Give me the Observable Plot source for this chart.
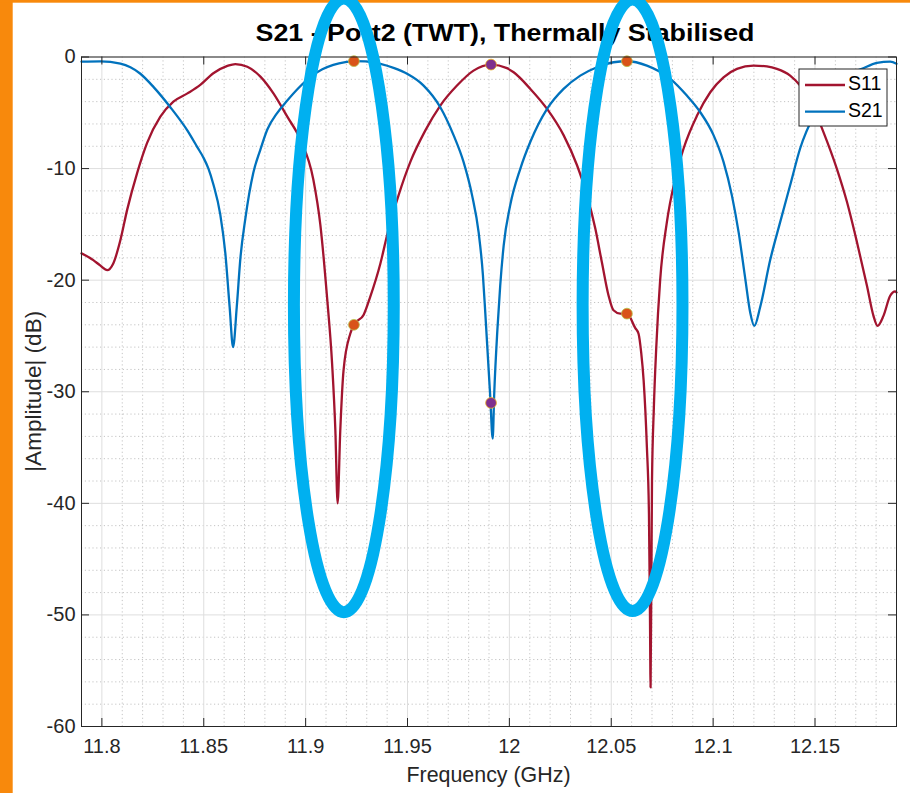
<!DOCTYPE html>
<html>
<head>
<meta charset="utf-8">
<script src="https://cdn.jsdelivr.net/npm/d3@7"></script>
<script src="https://cdn.jsdelivr.net/npm/@observablehq/plot@0.6"></script>
<style>
  html, body { margin: 0; padding: 0; background: #fff; }
  #chart { width: 910px; height: 793px; overflow: hidden; }
</style>
</head>
<body>
<div id="chart"></div>
<script>
// ---------------- data ----------------
const titleText = "S21 - Port2 (TWT), Thermally Stabilised";
const xLabel = "Frequency (GHz)";
const yLabel = "|Amplitude| (dB)";
const seriesNames = ["S11", "S21"];

const s21Freq = [11.7900, 11.7993, 11.8091, 11.8140, 11.8189, 11.8254, 11.8336, 11.8420, 11.8469, 11.8498,
  11.8523, 11.8547, 11.8581, 11.8606, 11.8627, 11.8644, 11.8662, 11.8680, 11.8704, 11.8743,
  11.8778, 11.8812, 11.8861, 11.8910, 11.8964, 11.9023, 11.9082, 11.9136, 11.9195, 11.9237,
  11.9293, 11.9367, 11.9435, 11.9498, 11.9579, 11.9661, 11.9726, 11.9775, 11.9817, 11.9849,
  11.9870, 11.9882, 11.9906, 11.9918, 11.9926, 11.9941, 11.9955, 11.9972, 12.0004, 12.0054,
  12.0103, 12.0185, 12.0266, 12.0348, 12.0430, 12.0511, 12.0577, 12.0675, 12.0790, 12.0871,
  12.0937, 12.1002, 12.1051, 12.1092, 12.1125, 12.1158, 12.1182, 12.1202, 12.1231, 12.1280,
  12.1329, 12.1378, 12.1427, 12.1501, 12.1575, 12.1648, 12.1730, 12.1804, 12.1869, 12.1900];
const s21Db = [-0.42, -0.40, -0.60, -0.92, -1.50, -2.70, -4.50, -6.60, -8.10, -9.00,
  -10.00, -11.40, -14.10, -17.60, -22.40, -26.00, -22.40, -18.00, -14.50, -10.40,
  -8.30, -6.50, -5.00, -3.90, -2.80, -1.80, -1.10, -0.70, -0.45, -0.37,
  -0.40, -0.62, -1.00, -1.50, -2.56, -4.50, -7.00, -9.40, -12.40, -15.70,
  -19.50, -23.00, -30.40, -34.20, -30.00, -24.50, -20.50, -16.90, -13.30, -10.00,
  -7.60, -4.65, -2.86, -1.67, -0.92, -0.47, -0.38, -0.77, -1.96, -3.46,
  -4.95, -7.00, -9.40, -12.40, -15.70, -19.90, -22.90, -24.10, -22.40, -18.20,
  -14.80, -11.50, -8.20, -5.00, -2.90, -1.70, -1.07, -0.53, -0.41, -0.60];

const s11Freq = [11.7900, 11.7958, 11.7993, 11.8026, 11.8056, 11.8091, 11.8124, 11.8173, 11.8222, 11.8287,
  11.8351, 11.8420, 11.8483, 11.8547, 11.8616, 11.8655, 11.8714, 11.8778, 11.8842, 11.8910,
  11.8974, 11.9038, 11.9072, 11.9105, 11.9130, 11.9146, 11.9157, 11.9170, 11.9186, 11.9219,
  11.9237, 11.9285, 11.9317, 11.9367, 11.9406, 11.9456, 11.9514, 11.9587, 11.9661, 11.9743,
  11.9824, 11.9910, 11.9988, 12.0021, 12.0103, 12.0185, 12.0266, 12.0332, 12.0381, 12.0422,
  12.0454, 12.0487, 12.0511, 12.0544, 12.0577, 12.0618, 12.0634, 12.0647, 12.0659, 12.0675,
  12.0685, 12.0690, 12.0693, 12.0700, 12.0709, 12.0721, 12.0740, 12.0773, 12.0814, 12.0855,
  12.0921, 12.0986, 12.1051, 12.1117, 12.1198, 12.1264, 12.1313, 12.1378, 12.1427, 12.1476,
  12.1542, 12.1607, 12.1657, 12.1706, 12.1755, 12.1787, 12.1807, 12.1836, 12.1869, 12.1894, 12.1900];
const s11Db = [-17.6, -18.2, -18.7, -19.1, -18.5, -16.4, -13.7, -10.4, -7.7, -5.35,
  -4.0, -3.26, -2.5, -1.46, -0.8, -0.63, -0.87, -1.76, -3.26, -5.35,
  -7.4, -11.0, -15.0, -21.5, -27.5, -33.5, -40.0, -33.5, -28.1, -24.8,
  -24.0, -23.1, -21.5, -18.5, -15.5, -12.4, -9.4, -6.6, -4.35, -2.56,
  -1.22, -0.68, -1.0, -1.37, -2.86, -4.65, -7.0, -9.7, -12.4, -15.4,
  -18.4, -21.4, -22.7, -23.0, -23.0, -24.3, -24.8, -26.5, -29.0, -35.0,
  -40.9, -49.9, -56.5, -38.0, -31.5, -26.0, -20.0, -14.8, -10.9, -8.2,
  -5.25, -3.16, -1.82, -1.07, -0.77, -0.85, -1.07, -1.67, -2.56, -3.9,
  -6.75, -10.0, -13.0, -16.6, -20.5, -23.2, -24.1, -23.2, -21.4, -21.0, -21.1];

// data-tip markers
const orangeFreq = [11.9237, 11.9237, 12.0577, 12.0577];
const orangeDb = [-0.37, -24.0, -0.38, -23.0];
const purpleFreq = [11.9910, 11.9910];
const purpleDb = [-0.68, -31.0];

// hand-drawn highlight ellipses (centre freq, centre dB, half-width GHz, half-height dB)
const ellipseFreq = [11.9190, 12.0607];
const ellipseDb = [-22.3, -22.3];
const ellipseHalfWidth = [0.0245, 0.0245];
const ellipseHalfHeight = [27.5, 27.4];

const xTicks = [11.8, 11.85, 11.9, 11.95, 12, 12.05, 12.1, 12.15];
const xTickLabels = ["11.8", "11.85", "11.9", "11.95", "12", "12.05", "12.1", "12.15"];
const xMinor = [11.79, 11.81, 11.82, 11.83, 11.84, 11.86, 11.87, 11.88, 11.89, 11.91, 11.92, 11.93, 11.94,
  11.96, 11.97, 11.98, 11.99, 12.01, 12.02, 12.03, 12.04, 12.06, 12.07, 12.08, 12.09,
  12.11, 12.12, 12.13, 12.14, 12.16, 12.17, 12.18];
const yTicks = [0, -10, -20, -30, -40, -50, -60];
const yTickLabels = ["0", "-10", "-20", "-30", "-40", "-50", "-60"];
const yMinor = [-2, -4, -6, -8, -12, -14, -16, -18, -22, -24, -26, -28, -32, -34, -36, -38,
  -42, -44, -46, -48, -52, -54, -56, -58];

// ---------------- layout / style ----------------
const W = 910, H = 793;
const mL = 81, mR = 14, mT = 56.5, mB = 67;
const plotW = W - mL - mR, plotH = H - mT - mB;
const FONT = "Arial, 'Liberation Sans', Helvetica, sans-serif";
const RED = "#A2142F", BLUE = "#0072BD", AX = "#262626";
const TICK = 8;

const s21 = s21Freq.map((f, i) => ({f, db: s21Db[i]}));
const s11 = s11Freq.map((f, i) => ({f, db: s11Db[i]}));
const orange = orangeFreq.map((f, i) => ({f, db: orangeDb[i]}));
const purple = purpleFreq.map((f, i) => ({f, db: purpleDb[i]}));

const plot = Plot.plot({
  width: W, height: H,
  marginLeft: mL, marginRight: mR, marginTop: mT, marginBottom: mB,
  style: {fontFamily: FONT, fontSize: "20px", background: "white", color: AX, overflow: "visible"},
  x: {domain: [11.79, 12.19]},
  y: {domain: [-60, 0]},
  marks: [
    Plot.gridX(xMinor, {stroke: "#c4c4c4", strokeOpacity: 1, strokeDasharray: "1.2,2.6"}),
    Plot.gridY(yMinor, {stroke: "#c4c4c4", strokeOpacity: 1, strokeDasharray: "1.2,2.6"}),
    Plot.gridX(xTicks, {stroke: "#dedede", strokeOpacity: 1}),
    Plot.gridY(yTicks, {stroke: "#dedede", strokeOpacity: 1}),
    Plot.line(s11, {x: "f", y: "db", stroke: RED, strokeWidth: 2.3, curve: "monotone-x"}),
    Plot.line(s21, {x: "f", y: "db", stroke: BLUE, strokeWidth: 2.3, curve: "monotone-x"}),
    Plot.dot(orange, {x: "f", y: "db", r: 5.4, fill: "#D95319", stroke: "#B8C24A", strokeWidth: 0.8}),
    Plot.dot(purple, {x: "f", y: "db", r: 5.4, fill: "#7E2F8E", stroke: "#EDB120", strokeWidth: 0.8}),
    Plot.frame({stroke: AX, strokeWidth: 1}),
    Plot.ruleX(xTicks, {insetTop: plotH - TICK, stroke: AX}),
    Plot.ruleX(xTicks, {insetBottom: plotH - TICK, stroke: AX}),
    Plot.ruleY(yTicks, {insetRight: plotW - TICK, stroke: AX}),
    Plot.ruleY(yTicks, {insetLeft: plotW - TICK, stroke: AX}),
    Plot.axisX(xTicks, {tickSize: 0, tickPadding: 12.5, label: null, fill: AX,
      tickFormat: d => xTickLabels[xTicks.indexOf(d)]}),
    Plot.axisY(yTicks, {tickSize: 0, tickPadding: 6, label: null, fill: AX,
      tickFormat: d => yTickLabels[yTicks.indexOf(d)]})
  ]
});

const svg = d3.select(plot);
const xs = plot.scale("x"), ys = plot.scale("y");

// orange page border
svg.append("rect").attr("x", 0).attr("y", 0).attr("width", 12.7).attr("height", H).attr("fill", "#F8890C");
svg.append("rect").attr("x", 0).attr("y", 0).attr("width", W).attr("height", 2.7).attr("fill", "#F8890C");

// title
svg.append("text")
  .attr("x", mL + plotW / 2 + 16.5).attr("y", 40.5)
  .attr("text-anchor", "middle")
  .attr("font-family", FONT).attr("font-weight", "bold").attr("font-size", 24)
  .attr("textLength", 499).attr("lengthAdjust", "spacingAndGlyphs")
  .attr("fill", "#000")
  .text(titleText);

// axis labels
svg.append("text")
  .attr("x", mL + plotW / 2).attr("y", mT + plotH + 50.5)
  .attr("text-anchor", "middle").attr("dominant-baseline", "middle")
  .attr("font-family", FONT).attr("font-size", 21.5).attr("fill", AX)
  .attr("textLength", 164).attr("lengthAdjust", "spacingAndGlyphs")
  .text(xLabel);
svg.append("text")
  .attr("transform", `translate(35,${mT + plotH / 2}) rotate(-90)`)
  .attr("text-anchor", "middle").attr("dominant-baseline", "middle")
  .attr("font-family", FONT).attr("font-size", 21.5).attr("fill", AX)
  .attr("textLength", 161).attr("lengthAdjust", "spacingAndGlyphs")
  .text(yLabel);

// legend (MATLAB style, inside axes, north-east)
const lgW = 88, lgH = 57;
const lgX = mL + plotW - 9 - lgW, lgY = mT + 12.5;
const lg = svg.append("g");
lg.append("rect").attr("x", lgX).attr("y", lgY).attr("width", lgW).attr("height", lgH)
  .attr("fill", "white").attr("stroke", AX).attr("stroke-width", 1);
[RED, BLUE].forEach((c, i) => {
  const yy = lgY + 16 + i * 26.7;
  lg.append("line").attr("x1", lgX + 6).attr("x2", lgX + 46).attr("y1", yy).attr("y2", yy)
    .attr("stroke", c).attr("stroke-width", 2.3);
  lg.append("text").attr("x", lgX + 49).attr("y", yy)
    .attr("text-anchor", "start").attr("dominant-baseline", "middle")
    .attr("font-family", FONT).attr("font-size", 19.5).attr("fill", "#000")
    .text(seriesNames[i]);
});

// highlight ellipses drawn over everything
ellipseFreq.forEach((f, i) => {
  const cx = xs.apply(f), cy = ys.apply(ellipseDb[i]);
  const rx = xs.apply(f + ellipseHalfWidth[i]) - cx;
  const ry = ys.apply(ellipseDb[i] - ellipseHalfHeight[i]) - cy;
  svg.append("ellipse").attr("cx", cx).attr("cy", cy).attr("rx", rx).attr("ry", ry)
    .attr("fill", "none").attr("stroke", "#00B0F0").attr("stroke-width", 12);
});

document.getElementById("chart").appendChild(plot);
</script>
</body>
</html>
